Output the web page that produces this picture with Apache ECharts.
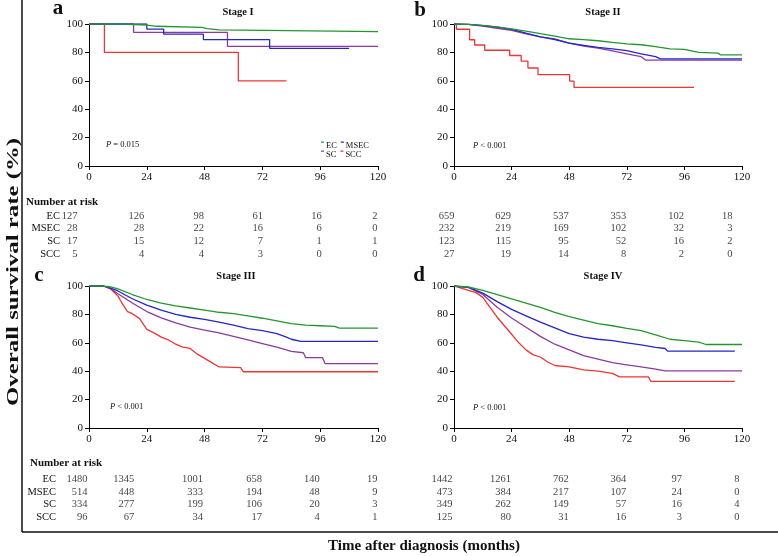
<!DOCTYPE html>
<html><head><meta charset="utf-8">
<script src="https://cdn.jsdelivr.net/npm/echarts@6/dist/echarts.min.js"></script>
<style>html,body{margin:0;padding:0;background:#fff}#c{width:778px;height:556px}</style>
</head><body><div id="c"></div>
<script>
// ---------- DATA ----------
const groups = ['EC', 'MSEC', 'SC', 'SCC'];
const riskMonths = [0, 24, 48, 72, 96, 120];
const xTicks = [0, 24, 48, 72, 96, 120];
const yTicks = [0, 20, 40, 60, 80, 100];
const stageTitles = ['Stage I', 'Stage II', 'Stage III', 'Stage IV'];
const panelLetters = ['a', 'b', 'c', 'd'];
const pValues = ['= 0.015', '< 0.001', '< 0.001', '< 0.001'];

// Stage I (KM steps)
const s1_EC   = [[0,100],[14,99.2],[24,98.4],[28,97.6],[47,96.8],[49,95.9],[54,94.7],[120,94.7]];
const s1_MSEC = [[0,100],[24,96.4],[31,92.9],[47.5,89],[75,82.9],[108,82.9]];
const s1_SC   = [[0,100],[18.5,94.1],[57.5,84.3],[120,84.3]];
const s1_SCC  = [[0,100],[6.4,80],[62,60],[82,60]];
// Stage II
const s2_EC   = [[0,100],[6,99.8],[12,99],[18,98],[24,96.6],[30,95],[36,93.2],[42,91.5],[48,89.6],[54,89],[60,88.2],[66,87],[72,86],[78,85.4],[84,84],[90,82.5],[96,82.2],[102,80],[110,79.5],[111,78.3],[120,78.3]];
const s2_MSEC = [[0,100],[6,99.7],[12,98.8],[18,97.8],[24,96.2],[30,93.5],[36,91],[42,89],[48,86.5],[54,85],[60,83.5],[66,82.5],[72,81.2],[78,79],[84,77],[86,75.5],[120,75.5]];
const s2_SC   = [[0,100],[6,99.7],[12,98.6],[18,97],[24,95.5],[30,93],[36,91],[42,89.5],[48,86.5],[54,84.5],[60,83],[66,81],[72,79],[78,77],[80,74.5],[120,74.5]];
const s2_SCC  = [[0,100],[1,96.3],[6.5,88.9],[8.6,85.2],[12.8,81.5],[23.2,77.8],[28,73.9],[30.8,69],[35,64.3],[48.2,59.8],[50,55.3],[100,55.3]];
// Stage III
const s3_EC   = [[0,100],[6,100],[9,99.3],[12,98],[18,94],[24,90.5],[30,88],[36,86],[42,84.5],[48,83],[54,81.5],[60,80.5],[66,79],[72,77.3],[78,75.5],[84,73.5],[90,72.5],[96,72],[102,71.5],[104,70.3],[120,70.3]];
const s3_MSEC = [[0,100],[6,100],[9,98.5],[12,96.5],[18,91],[24,86.5],[30,83],[36,80],[42,78],[48,76.5],[54,74.5],[60,72.5],[66,70],[72,68.5],[78,66.5],[82,64],[84,62.5],[88,61],[120,61]];
const s3_SC   = [[0,100],[6,100],[9,98],[12,94.5],[18,88],[24,82],[30,77.5],[36,74],[42,71],[48,69],[54,67],[60,64.5],[66,62],[72,59.5],[78,57],[84,54],[89,53],[90,49.5],[97,49.5],[98,45.4],[120,45.4]];
const s3_SCC  = [[0,100],[6,100],[9,98],[12,93],[14,87],[16,82],[18,80.5],[21,77],[24,69.5],[27,67],[30,64],[33,62],[36,59],[39,57],[42,56],[45,52],[48,49],[51,46],[54,43],[63,42.5],[64,39.6],[120,39.6]];
// Stage IV
const s4_EC   = [[0,100],[6,99.3],[12,97],[18,94],[24,91],[30,88],[36,85],[42,81.5],[48,78.5],[54,76],[60,73.5],[66,72],[72,70.2],[78,68.5],[84,65.5],[90,62.5],[96,61.5],[102,60.5],[105,58.8],[120,58.8]];
const s4_MSEC = [[0,100],[6,99],[12,95],[18,89],[24,83.5],[30,79],[36,74.5],[42,70.5],[48,66.5],[54,64],[60,62.5],[66,61.5],[72,60],[78,58.5],[84,56.8],[88,56],[89,54.1],[117,54.1]];
const s4_SC   = [[0,100],[6,99],[12,94],[18,85],[24,77.5],[30,71],[36,64.5],[42,59],[48,55],[54,51],[60,48.5],[66,46],[72,44.5],[78,43],[84,41.5],[88,40.2],[120,40.2]];
const s4_SCC  = [[0,100],[3,98.5],[6,97],[9,95.5],[12,92],[15,85],[18,78],[21,72],[24,66],[27,60],[30,55],[33,51.5],[36,50],[39,46.5],[42,44],[48,43],[54,41],[60,40],[66,38.5],[69,36],[81,36],[82,32.9],[117,32.9]];

// Number at risk
const r1_EC = [127,126,98,61,16,2],   r1_MSEC = [28,28,22,16,6,0],     r1_SC = [17,15,12,7,1,1],     r1_SCC = [5,4,4,3,0,0];
const r2_EC = [659,629,537,353,102,18], r2_MSEC = [232,219,169,102,32,3], r2_SC = [123,115,95,52,16,2], r2_SCC = [27,19,14,8,2,0];
const r3_EC = [1480,1345,1001,658,140,19], r3_MSEC = [514,448,333,194,48,9], r3_SC = [334,277,199,106,20,3], r3_SCC = [96,67,34,17,4,1];
const r4_EC = [1442,1261,762,364,97,8], r4_MSEC = [473,384,217,107,24,0], r4_SC = [349,262,149,57,16,4], r4_SCC = [125,80,31,16,3,0];

// ---------- LAYOUT / STYLE ----------
const FONT = 'Liberation Serif, Times New Roman, serif';
const colors = { EC: '#25962f', MSEC: '#2626c8', SC: '#8d3a9e', SCC: '#ee3535' };
const curves = [
  { EC: s1_EC, MSEC: s1_MSEC, SC: s1_SC, SCC: s1_SCC, step: true },
  { EC: s2_EC, MSEC: s2_MSEC, SC: s2_SC, SCC: s2_SCC, step: false, stepSCC: true },
  { EC: s3_EC, MSEC: s3_MSEC, SC: s3_SC, SCC: s3_SCC, step: false },
  { EC: s4_EC, MSEC: s4_MSEC, SC: s4_SC, SCC: s4_SCC, step: false }
];
const risks = [
  [r1_EC, r1_MSEC, r1_SC, r1_SCC],
  [r2_EC, r2_MSEC, r2_SC, r2_SCC],
  [r3_EC, r3_MSEC, r3_SC, r3_SCC],
  [r4_EC, r4_MSEC, r4_SC, r4_SCC]
];
const colShift = [[-11,-2,0,1,2,0],[1,0,0,0,0,-9],[-1,-12,-1,0,0,0],[-1,0,0,0,-2,-2]];

const plotBoxes = [
  { left: 89, top: 24, width: 289, height: 142 },
  { left: 454, top: 24, width: 288, height: 142 },
  { left: 89, top: 286, width: 289, height: 142 },
  { left: 454, top: 286, width: 288, height: 142 }
];
const tableBoxes = [
  { left: 89, top: 209.6, width: 289, height: 51 },
  { left: 454, top: 209.6, width: 288, height: 51 },
  { left: 89, top: 472.7, width: 289, height: 51 },
  { left: 454, top: 472.7, width: 288, height: 51 }
];

const axisCommon = {
  axisLine: { show: true, lineStyle: { color: '#000', width: 1 } },
  axisTick: { show: true, length: 4, lineStyle: { color: '#000' } },
  axisLabel: { fontFamily: FONT, fontSize: 11, color: '#111', margin: 6 },
  splitLine: { show: false }
};

const grid = [], xAxis = [], yAxis = [], series = [];
plotBoxes.forEach((b, i) => {
  grid.push(Object.assign({ containLabel: false }, b));
  xAxis.push(Object.assign({ type: 'value', gridIndex: i, min: xTicks[0], max: xTicks[xTicks.length - 1], interval: 24 }, axisCommon));
  yAxis.push(Object.assign({ type: 'value', gridIndex: i, min: yTicks[0], max: yTicks[yTicks.length - 1], interval: 20 }, axisCommon));
  groups.forEach((g, k) => {
    const stepped = curves[i].step || (g === 'SCC' && curves[i].stepSCC);
    series.push({
      type: 'line', name: g, xAxisIndex: i, yAxisIndex: i,
      data: curves[i][g], step: stepped ? 'end' : false,
      showSymbol: false, symbol: 'none', silent: true,
      lineStyle: { width: 1.3, color: colors[g] }, itemStyle: { color: colors[g] },
      z: 2 + (3 - k)
    });
  });
});
tableBoxes.forEach((b, t) => {
  const gi = grid.length;
  grid.push(Object.assign({ containLabel: false }, b));
  xAxis.push({ type: 'value', gridIndex: gi, min: 0, max: 120, show: false });
  yAxis.push({
    type: 'category', gridIndex: gi, data: groups, inverse: true,
    axisLine: { show: false }, axisTick: { show: false }, splitLine: { show: false },
    axisLabel: { show: t % 2 === 0, interval: 0, fontFamily: FONT, fontSize: 10.5, color: '#111', margin: t === 0 ? 29 : 33 }
  });
  const data = [];
  risks[t].forEach((row, r) => row.forEach((v, c) => {
    data.push({ value: [riskMonths[c], r, v], label: { offset: [colShift[t][c], 0] } });
  }));
  series.push({
    type: 'scatter', name: 'risk' + t, xAxisIndex: gi, yAxisIndex: gi, data,
    symbolSize: 1, itemStyle: { color: 'rgba(0,0,0,0)' }, silent: true,
    label: { show: true, position: 'left', distance: 0, formatter: p => String(p.value[2]),
      fontFamily: FONT, fontSize: 10.5, color: '#111' }
  });
});

const legendIcon = 'path://M0,0H3V1.2H0Z M0,7.99H0.01V8H0Z';
const legendCommon = {
  orient: 'horizontal', itemWidth: 3, itemHeight: 8, itemGap: 4, icon: legendIcon,
  textStyle: { fontFamily: FONT, fontSize: 8.5, color: '#111', padding: [0, 0, 0, -3] },
  selectedMode: false, padding: 0
};

const graphic = [];
graphic.push({ type: 'line', shape: { x1: 22, y1: 0, x2: 22, y2: 532 }, style: { stroke: '#111', lineWidth: 1.5 } });
graphic.push({ type: 'line', shape: { x1: 22, y1: 532, x2: 778, y2: 532 }, style: { stroke: '#111', lineWidth: 1.5 } });
const letterPos = [[58, 9], [420, 11], [39, 276], [419, 276]];
const titlePos = [[238, 12], [603, 12], [236, 276], [603, 276]];
const pPos = [[106, 145], [473, 146], [110, 407], [473, 408]];
for (let i = 0; i < 4; i++) {
  graphic.push({ type: 'text', x: letterPos[i][0], y: letterPos[i][1],
    style: { text: panelLetters[i], font: 'bold 21px ' + FONT, fill: '#111', textAlign: 'center', textVerticalAlign: 'middle' } });
  graphic.push({ type: 'text', x: titlePos[i][0], y: titlePos[i][1],
    style: { text: stageTitles[i], font: 'bold 10.5px ' + FONT, fill: '#111', textAlign: 'center', textVerticalAlign: 'middle' } });
  graphic.push({ type: 'text', x: pPos[i][0], y: pPos[i][1],
    style: { text: '{i|P} ' + pValues[i], fill: '#111', textVerticalAlign: 'middle',
      font: '8.5px ' + FONT,
      rich: { i: { fontStyle: 'italic', fontFamily: FONT, fontSize: 8.5, fill: '#111' } } } });
}
graphic.push({ type: 'text', x: 26, y: 202, style: { text: 'Number at risk', font: 'bold 11px ' + FONT, fill: '#111', textVerticalAlign: 'middle' } });
graphic.push({ type: 'text', x: 30, y: 463, style: { text: 'Number at risk', font: 'bold 11px ' + FONT, fill: '#111', textVerticalAlign: 'middle' } });
graphic.push({ type: 'text', x: 14, y: 272, rotation: Math.PI / 2, scaleX: 1.55,
  style: { text: 'Overall survival rate (%)', font: 'bold 16px ' + FONT, fill: '#111', textAlign: 'center', textVerticalAlign: 'middle' } });
graphic.push({ type: 'text', x: 424, y: 546,
  style: { text: 'Time after diagnosis (months)', font: 'bold 15px ' + FONT, fill: '#111', textAlign: 'center', textVerticalAlign: 'middle' } });

const chart = echarts.init(document.getElementById('c'), null, { renderer: 'canvas' });
chart.setOption({
  animation: false,
  backgroundColor: '#fff',
  grid, xAxis, yAxis, series, graphic,
  legend: [
    Object.assign({ data: ['EC', 'MSEC'], left: 321, top: 141 }, legendCommon),
    Object.assign({ data: ['SC', 'SCC'], left: 321, top: 150 }, legendCommon)
  ]
});
</script></body></html>
